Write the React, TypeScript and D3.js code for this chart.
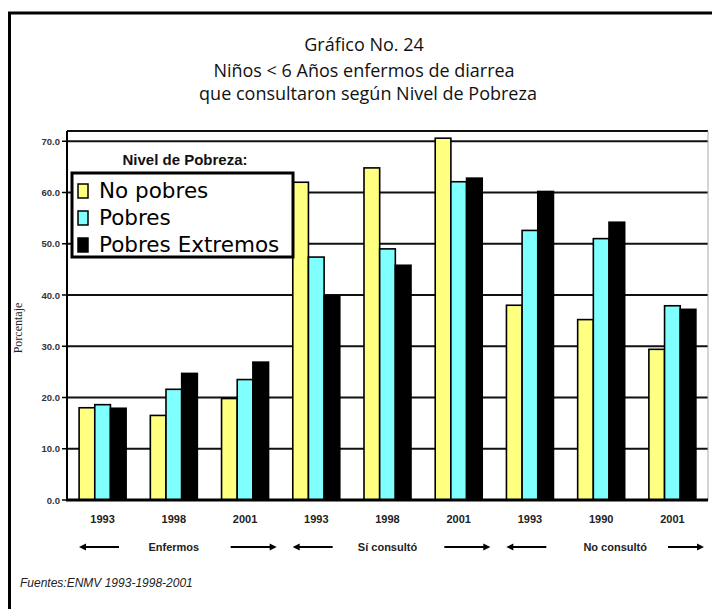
import * as d3 from 'd3';
import React from 'react';

// años por grupo (tal como aparecen en el gráfico)
const years = ['1993', '1998', '2001', '1993', '1998', '2001', '1993', '1990', '2001'];
const sections = ['Enfermos', 'Sí consultó', 'No consultó'];
const seriesNames = ['No pobres', 'Pobres', 'Pobres Extremos'];
const seriesColors = ['#ffff80', '#80ffff', '#000000'];

const noPobres = [18.0, 16.5, 19.8, 62.0, 64.8, 70.6, 38.0, 35.2, 29.4];
const pobres = [18.6, 21.6, 23.5, 47.4, 49.0, 62.1, 52.6, 51.0, 37.9];
const extremos = [17.9, 24.7, 26.9, 39.8, 45.8, 62.8, 60.2, 54.2, 37.2];

const yTicks = [0, 10, 20, 30, 40, 50, 60, 70];

const W = 712;
const H = 609;

const App = () => {
    const plot = { left: 67, right: 708, top: 131, bottom: 500 };

    const x0 = d3
        .scaleBand<number>()
        .domain(years.map((_, i) => i))
        .range([plot.left, plot.right])
        .paddingInner(0.34)
        .paddingOuter(0.17);

    const x1 = d3
        .scaleBand<number>()
        .domain([0, 1, 2])
        .range([0, x0.bandwidth()])
        .padding(0);

    const y = d3.scaleLinear().domain([0, 72]).range([plot.bottom, plot.top]);

    const fmt = d3.format('.1f');
    const series = [noPobres, pobres, extremos];

    const step = x0.step();
    const sectionWidth = step * 3;

    return (
        <svg
            width={W}
            height={H}
            style={{ position: 'absolute', left: 0, top: 0, background: '#fff' }}
        >
            {/* marco exterior */}
            <line x1={8} x2={W} y1={13} y2={13} stroke="#000" strokeWidth={3} />
            <line x1={9.5} x2={9.5} y1={12} y2={H} stroke="#000" strokeWidth={3} />

            {/* título */}
            <g fontFamily="'Open Sans', sans-serif" fontSize={18} fill="#111" textAnchor="middle">
                <text x={364} y={51}>Gráfico No. 24</text>
                <text x={364} y={77}>Niños &lt; 6 Años enfermos de diarrea</text>
                <text x={368} y={100}>que consultaron según Nivel de Pobreza</text>
            </g>

            {/* rejilla */}
            {yTicks.slice(1).map((t) => (
                <line
                    key={t}
                    x1={plot.left}
                    x2={plot.right}
                    y1={y(t)}
                    y2={y(t)}
                    stroke="#111"
                    strokeWidth={2}
                />
            ))}
            <line x1={plot.left} x2={plot.right} y1={plot.top} y2={plot.top} stroke="#111" strokeWidth={2} />
            <line x1={plot.right} x2={plot.right} y1={plot.top} y2={plot.bottom} stroke="#aaa" strokeWidth={1} />

            {/* barras */}
            {series.map((vals, s) =>
                vals.map((v, i) => (
                    <rect
                        key={`${s}-${i}`}
                        x={(x0(i) as number) + (x1(s) as number)}
                        y={y(v)}
                        width={x1.bandwidth()}
                        height={y(0) - y(v)}
                        fill={seriesColors[s]}
                        stroke="#000"
                        strokeWidth={1.6}
                    />
                ))
            )}

            {/* ejes */}
            <line x1={plot.left} x2={plot.left} y1={plot.top} y2={plot.bottom} stroke="#000" strokeWidth={2} />
            <line x1={plot.left - 1} x2={plot.right} y1={plot.bottom} y2={plot.bottom} stroke="#000" strokeWidth={3} />
            {yTicks.map((t) => (
                <g key={t}>
                    <line x1={plot.left - 5} x2={plot.left} y1={y(t)} y2={y(t)} stroke="#000" strokeWidth={1.5} />
                    <text
                        x={plot.left - 7}
                        y={y(t) + 3.5}
                        textAnchor="end"
                        fontFamily="'Liberation Sans', Arial, sans-serif"
                        fontSize={9.5}
                        fontWeight="bold"
                        fill="#333"
                    >
                        {fmt(t)}
                    </text>
                </g>
            ))}
            <text
                transform={`translate(22, 328) rotate(-90)`}
                textAnchor="middle"
                fontFamily="'Liberation Serif', serif"
                fontSize={12}
                fill="#222"
            >
                Porcentaje
            </text>

            {/* etiquetas de años */}
            {years.map((yr, i) => (
                <text
                    key={i}
                    x={(x0(i) as number) + x0.bandwidth() / 2}
                    y={523}
                    textAnchor="middle"
                    fontFamily="'Liberation Sans', Arial, sans-serif"
                    fontSize={11}
                    fontWeight="bold"
                    fill="#222"
                >
                    {yr}
                </text>
            ))}

            {/* secciones con flechas */}
            {sections.map((name, k) => {
                const start = plot.left + k * sectionWidth;
                const end = start + sectionWidth;
                const cx = start + sectionWidth / 2 + (k === 2 ? 14 : 0);
                const ay = 547;
                const rightLen = k === 2 ? 36 : 46;
                return (
                    <g key={name}>
                        <line x1={start + 14} x2={start + 52} y1={ay} y2={ay} stroke="#000" strokeWidth={2} />
                        <path d={`M${start + 12},${ay} l7,-3.5 l0,7 z`} fill="#000" />
                        <line x1={end - 4 - rightLen} x2={end - 6} y1={ay} y2={ay} stroke="#000" strokeWidth={2} />
                        <path d={`M${end - 4},${ay} l-7,-3.5 l0,7 z`} fill="#000" />
                        <text
                            x={cx}
                            y={ay + 4}
                            textAnchor="middle"
                            fontFamily="'Liberation Sans', Arial, sans-serif"
                            fontSize={11}
                            fontWeight="bold"
                            fill="#222"
                        >
                            {name}
                        </text>
                    </g>
                );
            })}

            {/* fuente */}
            <text
                x={20}
                y={587}
                fontFamily="'Liberation Sans', Arial, sans-serif"
                fontSize={12}
                fontStyle="italic"
                fill="#222"
            >
                Fuentes:ENMV 1993-1998-2001
            </text>

            {/* leyenda */}
            <rect x={plot.left + 2} y={145} width={226} height={26} fill="#fff" />
            <text
                x={185}
                y={165}
                textAnchor="middle"
                fontFamily="'Liberation Sans', Arial, sans-serif"
                fontSize={15}
                fontWeight="bold"
                fill="#111"
            >
                Nivel de Pobreza:
            </text>
            <rect x={72} y={173} width={221} height={84} fill="#fff" stroke="#000" strokeWidth={3} />
            {seriesNames.map((n, s) => {
                const base = 198 + s * 27;
                return (
                    <g key={n}>
                        <rect x={78} y={base - 14} width={10} height={14} fill={seriesColors[s]} stroke="#000" strokeWidth={1.5} />
                        <text x={99} y={base} fontFamily="'DejaVu Sans', Verdana, sans-serif" fontSize={21.5} fill="#000">
                            {n}
                        </text>
                    </g>
                );
            })}
        </svg>
    );
};

export default App;
